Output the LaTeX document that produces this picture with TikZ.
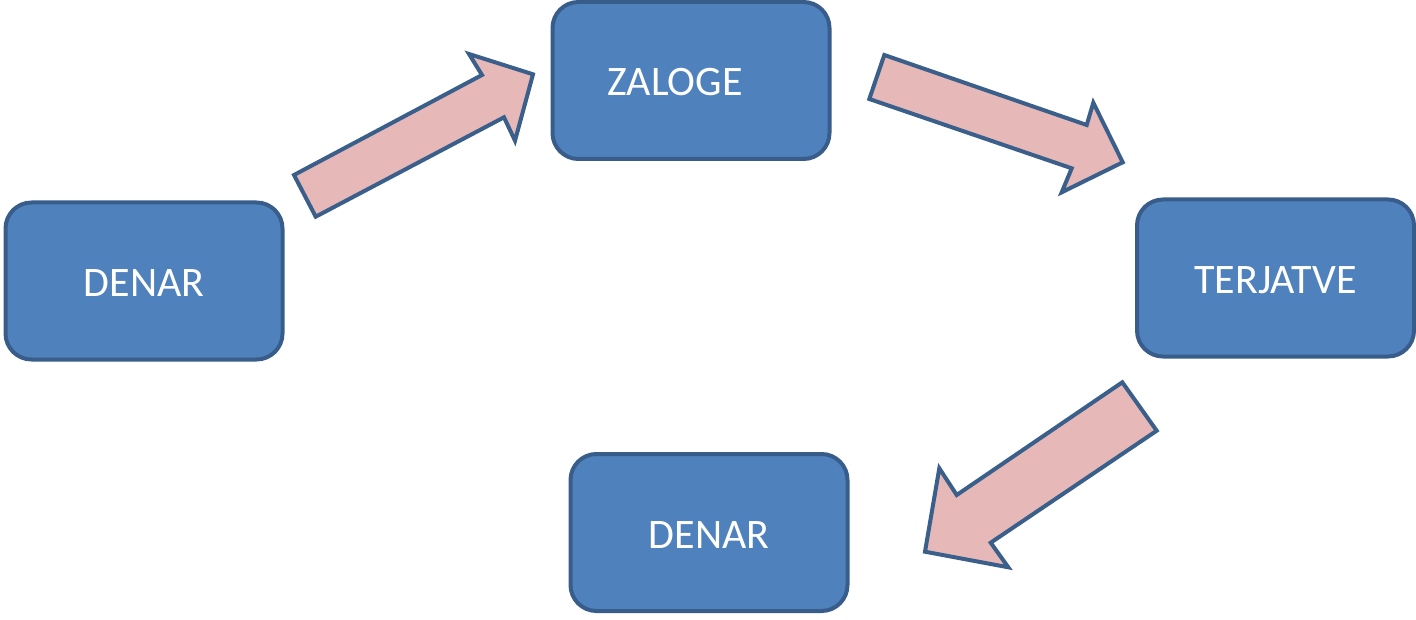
\documentclass[tikz,border=0pt]{standalone}
\usepackage{fontspec}
\setmainfont{Carlito}
\definecolor{boxfill}{HTML}{4F81BD}
\definecolor{boxline}{HTML}{385D8A}
\definecolor{arrfill}{HTML}{E6B9B8}
\definecolor{arrline}{HTML}{3A5F8B}
\begin{document}
\begin{tikzpicture}[x=1pt,y=-1pt,
  box/.style={draw=boxline,fill=boxfill,line width=4pt,rounded corners=26pt,
    minimum width=277pt,minimum height=157pt,inner sep=0pt},
  lbl/.style={text=white,font=\fontsize{42}{46}\selectfont,inner sep=0pt},
  blockarrow/.style={draw=arrline,fill=arrfill,line width=4pt,line join=miter}]
\useasboundingbox (0,0) rectangle (1416,620);
\node[box] (b1) at (144,281) {};
\node[lbl] (t1) at (144,283) {DENAR};
\node[box] (b2) at (691,80.5) {};
\node[lbl] (t2) at (675,82) {ZALOGE};
\node[box] (b3) at (1275.5,278) {};
\node[lbl] (t3) at (1275.5,280) {TERJATVE};
\node[box] (b4) at (709,532.5) {};
\node[lbl] (t4) at (709,535) {DENAR};
\draw[blockarrow] (315.7,216.7) -- (294,175) -- (482,75) -- (469,54) -- (533,74.3)
  -- (515,140.7) -- (504,117.3) -- cycle;
\draw[blockarrow] (884.3,55) -- (869.3,99) -- (1071.7,168.3) -- (1061.7,192.3)
  -- (1122.7,162.3) -- (1093.3,102.7) -- (1086.7,125) -- cycle;
\draw[blockarrow] (1122.3,382.3) -- (1156.7,430.7) -- (990.7,542.7) -- (1008.3,567.3)
  -- (925,551.7) -- (939.3,468.3) -- (956.7,495) -- cycle;
\end{tikzpicture}
\end{document}
